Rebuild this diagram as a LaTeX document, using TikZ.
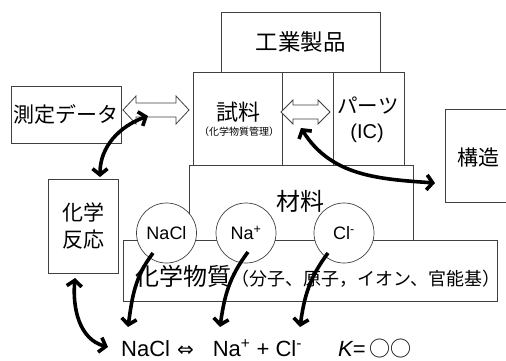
\documentclass[tikz,border=0pt]{standalone}
\usepackage{fontspec}
\setmainfont{Liberation Sans}
\newfontfamily\jp{Noto Sans CJK JP}
\newfontfamily\dv{DejaVu Sans}
\usetikzlibrary{arrows.meta}
\colorlet{edgecol}{black!75}
\tikzset{
  box/.style={draw=edgecol, line width=0.8pt, inner sep=0pt},
  ion/.style={circle, draw=edgecol, line width=0.7pt, fill=white,
    minimum size=60pt, inner sep=0pt, font=\fontsize{18}{21}\selectfont},
  link/.style={line width=3.6pt,
    {Straight Barb[length=6pt,width=15pt]}-{Straight Barb[length=6pt,width=15pt]}},
  oneway/.style={line width=3.6pt, -{Straight Barb[length=6pt,width=15pt]}},
  hollow/.style={draw=edgecol, line width=0.8pt, fill=white, line join=miter},
  jptext/.style={font=\jp\fontsize{#1}{#1}\selectfont, inner sep=0pt},
}
\begin{document}
\begin{tikzpicture}[x=1pt,y=1pt]
\useasboundingbox (0,0) rectangle (506,360);

% ---- boxes of the layered stack ----
\node[box, minimum width=159pt, minimum height=60pt] (kogyo) at (300.5,318)
  {\jp\fontsize{22.5}{26}\selectfont 工業製品};
\node[box, minimum width=89pt, minimum height=93pt] (shiryo) at (237.5,241.5) {};
\node[box, minimum width=51pt, minimum height=93pt] (mid) at (307.5,241.5) {};
\node[box, minimum width=71pt, minimum height=93pt] (parts) at (368.5,241.5) {};
\node[box, minimum width=224pt, minimum height=75pt] (zairyo) at (301,157.5) {};
\node[box, minimum width=374pt, minimum height=61pt] (kagaku) at (310,89.5) {};

% ---- side boxes ----
\node[box, minimum width=110pt, minimum height=57pt] (sokutei) at (66,245.5)
  {\jp\fontsize{21}{25}\selectfont 測定データ};
\node[box, minimum width=70pt, minimum height=94pt, align=center,
  font=\jp\fontsize{21}{27}\selectfont] (hanno) at (83,134) {化学\\反応};
\draw[edgecol, line width=0.8pt] (507,251) -- (445,251) -- (445,158) -- (507,158);
\node[jptext=21] (kozo) at (478,202) {構造};

% ---- labels inside the stack ----
\node[jptext=22] (t-shiryo) at (238,247.5) {試料};
\node[jptext=10] (t-kanri) at (239,228.5) {（化学物質管理）};
\node[jptext=20.5] (t-parts) at (368,254) {パーツ};
\node[font=\fontsize{20}{24}\selectfont, inner sep=0pt] (t-ic) at (367,227) {(IC)};

% ---- hollow double arrows ----
\draw[hollow] (123,250) -- (136,264) -- (136,257) -- (176,257) -- (176,264)
  -- (189,250) -- (176,236) -- (176,243) -- (136,243) -- (136,236) -- cycle;
\draw[hollow] (281,248) -- (293,260) -- (293,255) -- (318,255) -- (318,260)
  -- (330,248) -- (318,236) -- (318,241) -- (293,241) -- (293,236) -- cycle;

% ---- species circles ----
\node[ion] (cNaCl) at (166.5,127) {NaCl};
\node[ion] (cNa) at (246,127) {Na\textsuperscript{+}};
\node[ion] (cCl) at (344,127) {Cl\textsuperscript{-}};

\node[jptext=24] (t-zairyo) at (300,159) {材料};
\node[anchor=base west, inner sep=0pt] (t-kagaku) at (135,75)
  {\jp\fontsize{24}{28}\selectfont 化学物質\fontsize{18}{22}\selectfont （分子、原子，イオン、官能基）};

% ---- equation line ----
\node[anchor=base west, inner sep=0pt, font=\fontsize{22}{26}\selectfont] (eq) at (121,4)
  {NaCl\hspace{7pt}{\dv\fontsize{20}{24}\selectfont ⇔}\hspace{19pt}Na\textsuperscript{+} + Cl\textsuperscript{-}};
\node[anchor=base west, inner sep=0pt, font=\fontsize{22}{26}\selectfont] (keq) at (338,4)
  {{\itshape K}=\hspace{4pt}{\jp\fontsize{21}{25}\selectfont ○○}};

% ---- connector end points ----
\coordinate (p1a) at (148,244);
\coordinate (p1b) at (100,183);
\coordinate (p2a) at (301,232);
\coordinate (p2b) at (435,177);
\coordinate (p3a) at (75,82);
\coordinate (p3b) at (108,13);
\coordinate (q1) at (153,107);
\coordinate (r1) at (128,33);
\coordinate (q2) at (248,108);
\coordinate (r2) at (220,33);
\coordinate (q3) at (328,107);
\coordinate (r3) at (300,33);

% ---- curved black arrows ----
\draw[link] (p1a) to[out=200, in=90] (p1b);
\draw[link] (p2a) to[out=-58, in=176] (p2b);
\draw[link] (p3a) to[out=-95, in=165] (p3b);
\draw[oneway] (q1) to[out=233, in=82] (r1);
\draw[oneway] (q2) to[out=233, in=82] (r2);
\draw[oneway] (q3) to[out=233, in=82] (r3);
\end{tikzpicture}
\end{document}
